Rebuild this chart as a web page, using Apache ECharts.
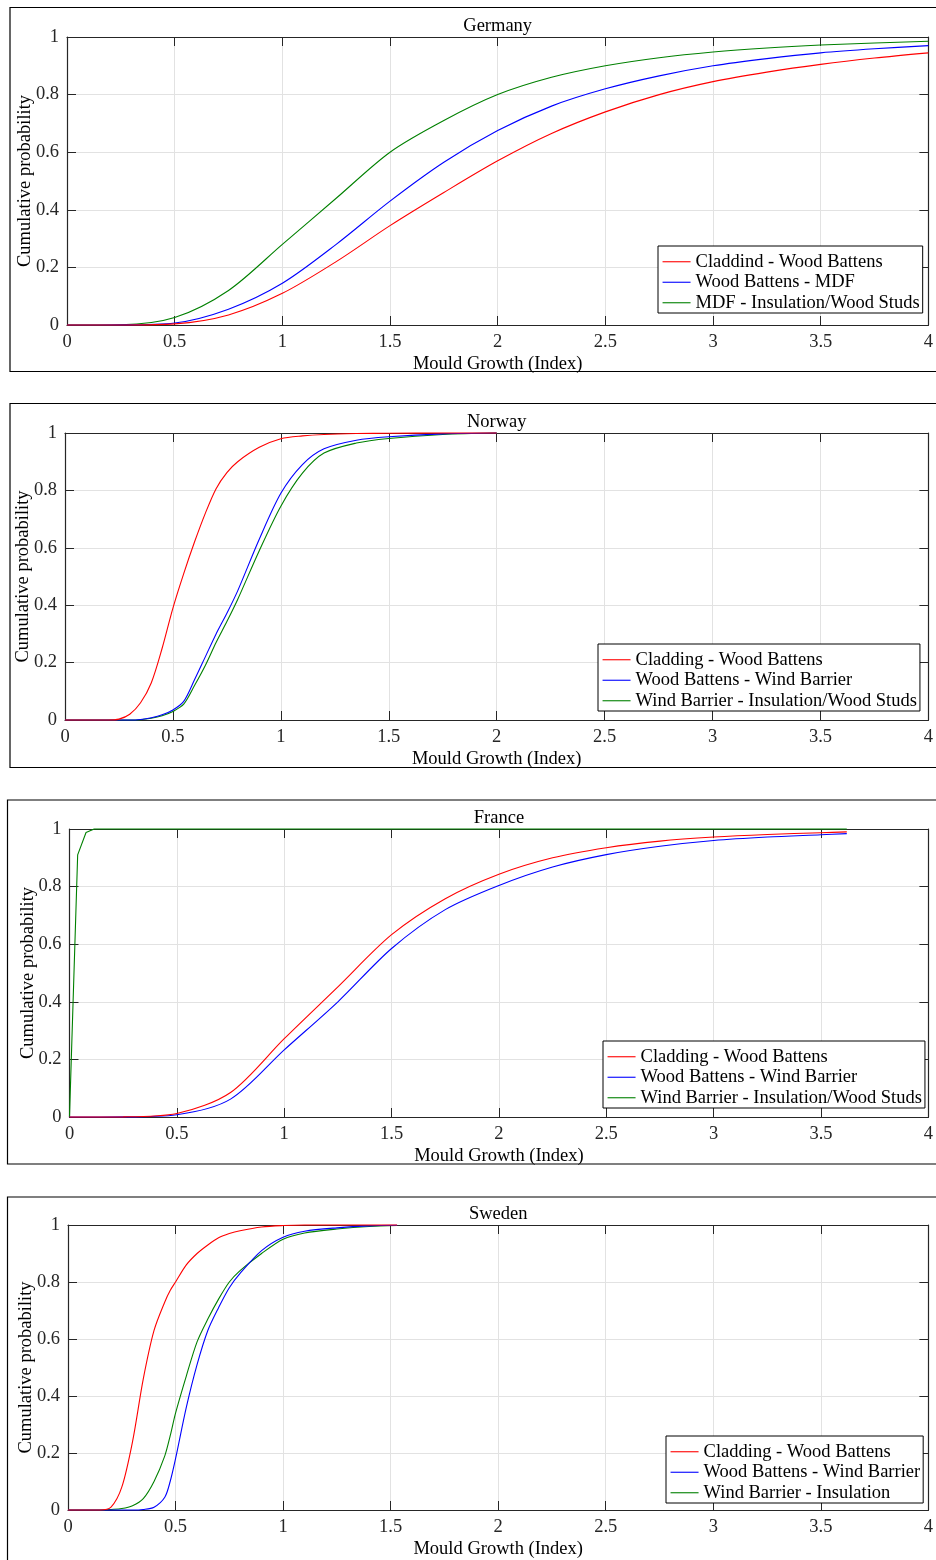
<!DOCTYPE html>
<html>
<head>
<meta charset="utf-8">
<title>Mould growth - cumulative probability</title>
<script src="https://cdn.jsdelivr.net/npm/echarts@6/dist/echarts.min.js"></script>
<style>
  html, body { margin: 0; padding: 0; background: #fff; }
  #chart { width: 936px; height: 1560px; }
</style>
</head>
<body>
<div id="chart"></div>
<script>
// values (mould growth index -> cumulative probability)
const germanyX = [0, 0.25, 0.5, 0.75, 1, 1.25, 1.5, 1.75, 2, 2.25, 2.5, 2.75, 3, 3.25, 3.5, 3.75, 4];
const germanyRed = [0, 0.0002, 0.004, 0.035, 0.11, 0.22, 0.345, 0.46, 0.57, 0.665, 0.74, 0.8, 0.845, 0.878, 0.905, 0.927, 0.945];
const germanyBlue = [0, 0.0003, 0.007, 0.055, 0.145, 0.28, 0.43, 0.565, 0.675, 0.76, 0.82, 0.865, 0.9, 0.925, 0.945, 0.959, 0.97];
const germanyGreen = [0, 0.001, 0.026, 0.12, 0.28, 0.44, 0.6, 0.71, 0.8, 0.86, 0.9, 0.928, 0.948, 0.962, 0.972, 0.979, 0.985];

const norwayX = [0, 0.2, 0.25, 0.3, 0.35, 0.4, 0.45, 0.5, 0.55, 0.6, 0.65, 0.7, 0.75, 0.8, 0.9, 1, 1.1, 1.2, 1.35, 1.5, 1.75, 2];
const norwayRed = [0, 0, 0.003, 0.02, 0.06, 0.13, 0.25, 0.39, 0.51, 0.62, 0.72, 0.806, 0.862, 0.9, 0.95, 0.98, 0.99, 0.995, 0.998, 0.999, 1, 1];
const norwayBlue = [0, 0, 0, 0, 0.002, 0.008, 0.018, 0.035, 0.065, 0.14, 0.22, 0.3, 0.372, 0.45, 0.63, 0.79, 0.89, 0.945, 0.975, 0.987, 0.997, 1];
const norwayGreen = [0, 0, 0, 0, 0.001, 0.006, 0.015, 0.03, 0.055, 0.12, 0.19, 0.27, 0.343, 0.42, 0.59, 0.745, 0.86, 0.93, 0.965, 0.981, 0.995, 1];

const franceX = [0, 0.25, 0.5, 0.75, 1, 1.25, 1.5, 1.75, 2, 2.25, 2.5, 2.75, 3, 3.25, 3.5, 3.62];
const franceRed = [0, 0.0005, 0.012, 0.085, 0.272, 0.452, 0.633, 0.758, 0.843, 0.9, 0.935, 0.958, 0.972, 0.981, 0.987, 0.99];
const franceBlue = [0, 0.0003, 0.008, 0.062, 0.233, 0.4, 0.585, 0.72, 0.804, 0.868, 0.911, 0.94, 0.96, 0.972, 0.98, 0.984];
const franceGreenX = [0, 0.038, 0.077, 0.115, 0.5, 1, 2, 3, 3.62];
const franceGreen = [0, 0.91, 0.988, 1, 1, 1, 1, 1, 1];

const swedenX = [0, 0.15, 0.2, 0.25, 0.3, 0.35, 0.4, 0.45, 0.475, 0.5, 0.55, 0.6, 0.65, 0.7, 0.75, 0.8, 0.9, 1, 1.1, 1.25, 1.4, 1.53];
const swedenRed = [0, 0, 0.01, 0.08, 0.24, 0.46, 0.63, 0.73, 0.77, 0.8, 0.86, 0.9, 0.93, 0.955, 0.97, 0.98, 0.993, 0.998, 1, 1, 1, 1];
const swedenBlue = [0, 0, 0, 0, 0, 0.002, 0.01, 0.045, 0.1, 0.18, 0.36, 0.51, 0.63, 0.71, 0.78, 0.83, 0.91, 0.957, 0.978, 0.99, 0.997, 0.999];
const swedenGreen = [0, 0, 0.002, 0.005, 0.015, 0.04, 0.1, 0.19, 0.26, 0.34, 0.47, 0.59, 0.67, 0.74, 0.8, 0.84, 0.9, 0.95, 0.972, 0.986, 0.995, 0.998];

const namesGermany = ['Claddind - Wood Battens', 'Wood Battens - MDF', 'MDF - Insulation/Wood Studs'];
const namesNorway = ['Cladding - Wood Battens', 'Wood Battens - Wind Barrier', 'Wind Barrier - Insulation/Wood Studs'];
const namesSweden = ['Cladding - Wood Battens', 'Wood Battens - Wind Barrier', 'Wind Barrier - Insulation'];

const colors = ['#ff0000', '#0000ff', '#008000'];
const FONT = "'Liberation Serif', 'Times New Roman', serif";
const FS = 18.5;
const AXIS_COLOR = '#262626';

const pair = (xs, ys) => xs.map((x, i) => [x, ys[i]]);

// one entry per subplot: layout + its three curves
const panels = [
  {
    title: 'Germany', frame: [10, 7.5, 364], grid: { left: 67, top: 37, width: 863, height: 288 },
    legend: { left: 658, top: 246 }, names: namesGermany,
    curves: [pair(germanyX, germanyRed), pair(germanyX, germanyBlue), pair(germanyX, germanyGreen)],
  },
  {
    title: 'Norway', frame: [10, 403.5, 364], grid: { left: 65, top: 433, width: 864, height: 287 },
    legend: { left: 598, top: 644 }, names: namesNorway,
    curves: [pair(norwayX, norwayRed), pair(norwayX, norwayBlue), pair(norwayX, norwayGreen)],
  },
  {
    title: 'France', frame: [7.5, 800, 364], grid: { left: 69.5, top: 829, width: 864.5, height: 288 },
    legend: { left: 603, top: 1041 }, names: namesNorway,
    curves: [pair(franceX, franceRed), pair(franceX, franceBlue), pair(franceGreenX, franceGreen)],
    polyline: [false, false, true],
  },
  {
    title: 'Sweden', frame: [7.5, 1197, 400], grid: { left: 68, top: 1225, width: 865, height: 288 },
    legend: { left: 666, top: 1436 }, names: namesSweden,
    curves: [pair(swedenX, swedenRed), pair(swedenX, swedenBlue), pair(swedenX, swedenGreen)],
  },
];

const grid = [], xAxis = [], yAxis = [], series = [], legend = [], graphic = [];

panels.forEach((p, i) => {
  grid.push(Object.assign({ containLabel: false }, p.grid));

  graphic.push({
    type: 'rect', z: -1,
    shape: { x: p.frame[0], y: p.frame[1], width: 1000, height: p.frame[2] },
    style: { fill: 'none', stroke: '#000', lineWidth: 1.2 },
  });

  const tickStyle = { show: true, inside: true, length: 9, lineStyle: { color: AXIS_COLOR, width: 1 } };
  const lineStyle = { show: true, onZero: false, lineStyle: { color: AXIS_COLOR, width: 1.2 } };

  // bottom axis with labels and grid, top axis mirrors the ticks and carries the title
  xAxis.push({
    type: 'value', gridIndex: i, position: 'bottom', min: 0, max: 4, interval: 0.5,
    name: 'Mould Growth (Index)', nameLocation: 'middle', nameGap: 30,
    nameTextStyle: { fontFamily: FONT, fontSize: FS, color: '#000' },
    axisLine: lineStyle, axisTick: tickStyle,
    axisLabel: { fontFamily: FONT, fontSize: FS, color: AXIS_COLOR, margin: 8 },
    splitLine: { show: true, lineStyle: { color: '#e2e2e2', width: 1 } },
  });
  xAxis.push({
    type: 'value', gridIndex: i, position: 'top', min: 0, max: 4, interval: 0.5,
    name: p.title, nameLocation: 'middle', nameGap: 1,
    nameTextStyle: { fontFamily: FONT, fontSize: FS, color: '#000' },
    axisLine: lineStyle, axisTick: tickStyle,
    axisLabel: { show: false }, splitLine: { show: false },
  });
  yAxis.push({
    type: 'value', gridIndex: i, position: 'left', min: 0, max: 1, interval: 0.2,
    name: 'Cumulative probability', nameLocation: 'middle', nameGap: 32, nameRotate: 90,
    nameMoveOverlap: false,
    nameTextStyle: { fontFamily: FONT, fontSize: FS, color: '#000' },
    axisLine: lineStyle, axisTick: tickStyle,
    axisLabel: { fontFamily: FONT, fontSize: FS, color: AXIS_COLOR, margin: 8 },
    splitLine: { show: true, lineStyle: { color: '#e2e2e2', width: 1 } },
  });
  yAxis.push({
    type: 'value', gridIndex: i, position: 'right', min: 0, max: 1, interval: 0.2,
    axisLine: lineStyle, axisTick: tickStyle,
    axisLabel: { show: false }, splitLine: { show: false },
  });

  p.curves.forEach((data, k) => {
    const straight = p.polyline && p.polyline[k];
    series.push({
      type: 'line', name: p.names[k], data: data,
      xAxisIndex: i * 2, yAxisIndex: i * 2,
      symbol: 'none', smooth: straight ? false : 0.3,
      clip: false, animation: false,
      lineStyle: { color: colors[k], width: 1.1 },
      itemStyle: { color: colors[k] },
      z: 3 + (2 - k),
    });
  });

  legend.push({
    data: p.names, orient: 'vertical', left: p.legend.left, top: p.legend.top,
    itemWidth: 28, itemHeight: 12, itemGap: 0,
    itemStyle: { opacity: 0 },
    lineStyle: { width: 1.1 },
    padding: [5.5, 3, 0, 4],
    borderColor: '#000', borderWidth: 1, backgroundColor: '#fff',
    selectedMode: false,
    textStyle: { fontFamily: FONT, fontSize: FS, color: '#000', lineHeight: 20.5 },
  });
});

const chart = echarts.init(document.getElementById('chart'), null, { renderer: 'canvas' });
chart.setOption({
  animation: false,
  backgroundColor: '#fff',
  grid, xAxis, yAxis, series, legend, graphic,
});
window.addEventListener('resize', () => chart.resize());
</script>
</body>
</html>
